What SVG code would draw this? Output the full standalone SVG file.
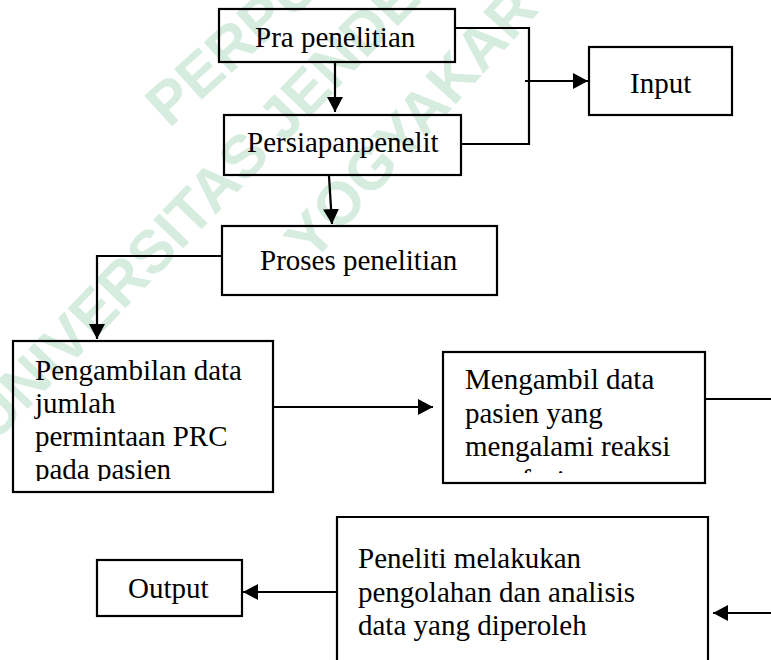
<svg xmlns="http://www.w3.org/2000/svg" width="771" height="660" viewBox="0 0 771 660">
<style>
.box{fill:none;stroke:#000;stroke-width:2.2}
.t{font-family:"Liberation Serif","Times New Roman",serif;font-size:29px;fill:#000}
.c{fill:none;stroke:#000;stroke-width:2.2}
.wm{font-family:"Liberation Sans",Arial,sans-serif;font-weight:bold;font-size:60px;fill:#bfe3cf;opacity:0.65}
</style>
<defs>
<marker id="ah" markerUnits="userSpaceOnUse" markerWidth="15" markerHeight="16" refX="15" refY="8" orient="auto">
<path d="M0,0 L15,8 L0,16 z" fill="#000"/>
</marker>
<clipPath id="clip4"><rect x="14" y="342" width="258" height="139"/></clipPath>
<clipPath id="clip5"><rect x="444" y="353" width="260" height="120"/></clipPath>
</defs>
<rect width="771" height="660" fill="#fff"/>
<g id="watermark">
<text class="wm" transform="translate(169,129) rotate(-42)">PERPUSTAKAAN</text>
<text class="wm" transform="translate(-5,443) rotate(-46)">UNIVERSITAS JENDERAL ACHMAD YANI</text>
<text class="wm" transform="translate(312,264) rotate(-48)">YOGYAKARTA</text>
</g>
<g id="connectors">
<path class="c" d="M335,62 L335,112" marker-end="url(#ah)"/>
<path class="c" d="M329,176 L332,224" marker-end="url(#ah)"/>
<path class="c" d="M455,28 H529 V144 H461"/>
<path class="c" d="M525,81 L588,81" marker-end="url(#ah)"/>
<path class="c" d="M222,256 H97 V339" marker-end="url(#ah)"/>
<path class="c" d="M273,407 L433,407" marker-end="url(#ah)"/>
<path class="c" d="M705,399 H771"/>
<path class="c" d="M771,613 L713,613" marker-end="url(#ah)"/>
<path class="c" d="M337,592 L243,592" marker-end="url(#ah)"/>
</g>
<g id="pra">
<rect class="box" x="219" y="9" width="236" height="53"/>
<text class="t" x="255" y="47">Pra penelitian</text>
</g>
<g id="persiapan">
<rect class="box" x="224" y="115" width="237" height="60"/>
<text class="t" x="247" y="152">Persiapanpenelit</text>
</g>
<g id="input">
<rect class="box" x="589" y="47" width="143" height="68"/>
<text class="t" x="630" y="93">Input</text>
</g>
<g id="proses">
<rect class="box" x="222" y="226" width="275" height="69"/>
<text class="t" x="260" y="270">Proses penelitian</text>
</g>
<g id="pengambilan">
<rect class="box" x="13" y="341" width="260" height="151"/>
<g clip-path="url(#clip4)">
<text class="t" x="35" y="380">Pengambilan data</text>
<text class="t" x="35" y="413">jumlah</text>
<text class="t" x="35" y="446">permintaan PRC</text>
<text class="t" x="35" y="479">pada pasien</text>
</g>
</g>
<g id="mengambil">
<rect class="box" x="443" y="352" width="262" height="131"/>
<g clip-path="url(#clip5)">
<text class="t" x="465" y="389">Mengambil data</text>
<text class="t" x="465" y="423">pasien yang</text>
<text class="t" x="465" y="456">mengalami reaksi</text>
<text class="t" x="465" y="490">transfusi</text>
</g>
</g>
<g id="peneliti">
<path class="box" d="M337,670 V517 H708 V670"/>
<text class="t" x="358" y="568">Peneliti melakukan</text>
<text class="t" x="358" y="602">pengolahan dan analisis</text>
<text class="t" x="358" y="635">data yang diperoleh</text>
</g>
<g id="output">
<rect class="box" x="97" y="560" width="145" height="56"/>
<text class="t" x="128" y="598">Output</text>
</g>
</svg>
